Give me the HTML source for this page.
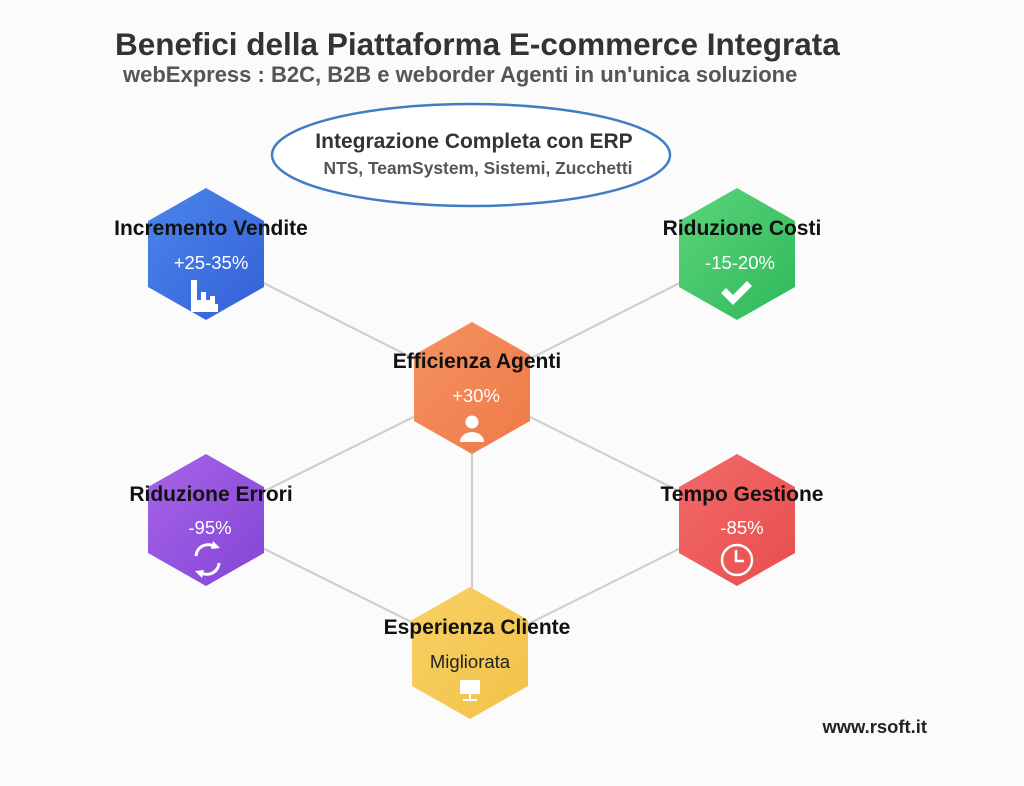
<!DOCTYPE html>
<html><head><meta charset="utf-8"><style>
html,body{margin:0;padding:0;background:#fbfbfb;}
svg{display:block;font-family:"Liberation Sans",Arial,sans-serif;}
</style></head><body>
<svg width="1024" height="786" viewBox="0 0 1024 786" xmlns="http://www.w3.org/2000/svg">
<defs>
<linearGradient id="gb" x1="0" y1="0" x2="1" y2="1"><stop offset="0" stop-color="#4a86ea"/><stop offset="1" stop-color="#3560d8"/></linearGradient>
<linearGradient id="gg" x1="0" y1="0" x2="1" y2="1"><stop offset="0" stop-color="#5cd47c"/><stop offset="1" stop-color="#2fb85a"/></linearGradient>
<linearGradient id="go" x1="0" y1="0" x2="1" y2="1"><stop offset="0" stop-color="#f49260"/><stop offset="1" stop-color="#ee7a48"/></linearGradient>
<linearGradient id="gp" x1="0" y1="0" x2="1" y2="1"><stop offset="0" stop-color="#a764e6"/><stop offset="1" stop-color="#8345d8"/></linearGradient>
<linearGradient id="gr" x1="0" y1="0" x2="1" y2="1"><stop offset="0" stop-color="#f26a6a"/><stop offset="1" stop-color="#e84e4e"/></linearGradient>
<linearGradient id="gy" x1="0" y1="0" x2="1" y2="1"><stop offset="0" stop-color="#f8d063"/><stop offset="1" stop-color="#f2c24a"/></linearGradient>
<polygon id="hex" points="0,-66 58,-33 58,33 0,66 -58,33 -58,-33"/>
</defs>
<text x="115" y="55" font-size="31.5" font-weight="bold" fill="#333">Benefici della Piattaforma E-commerce Integrata</text>
<text x="123" y="82" font-size="22" font-weight="bold" fill="#555">webExpress : B2C, B2B e weborder Agenti in un'unica soluzione</text>
<ellipse cx="471" cy="155" rx="199" ry="51" fill="#fff" stroke="#3f7ec4" stroke-width="2.5"/>
<text x="474" y="148" font-size="21" font-weight="bold" fill="#333" text-anchor="middle">Integrazione Completa con ERP</text>
<text x="478" y="174" font-size="17.4" font-weight="bold" fill="#555" text-anchor="middle">NTS, TeamSystem, Sistemi, Zucchetti</text>
<g stroke="#cfcfcf" stroke-width="2.2">
<line x1="206" y1="254" x2="472" y2="388"/>
<line x1="737" y1="254" x2="472" y2="388"/>
<line x1="472" y1="388" x2="206" y2="520"/>
<line x1="472" y1="388" x2="737" y2="520"/>
<line x1="472" y1="388" x2="472" y2="652"/>
<line x1="206" y1="520" x2="472" y2="652"/>
<line x1="737" y1="520" x2="472" y2="652"/>
</g>
<use href="#hex" x="206" y="254" fill="url(#gb)"/>
<use href="#hex" x="737" y="254" fill="url(#gg)"/>
<use href="#hex" x="472" y="388" fill="url(#go)"/>
<use href="#hex" x="206" y="520" fill="url(#gp)"/>
<use href="#hex" x="737" y="520" fill="url(#gr)"/>
<use href="#hex" x="470" y="653" fill="url(#gy)"/>
<g font-size="21" font-weight="bold" fill="#111" text-anchor="middle">
<text x="211" y="235">Incremento Vendite</text>
<text x="742" y="235">Riduzione Costi</text>
<text x="477" y="368">Efficienza Agenti</text>
<text x="211" y="501">Riduzione Errori</text>
<text x="742" y="501">Tempo Gestione</text>
<text x="477" y="634">Esperienza Cliente</text>
</g>
<g font-size="18.5" fill="#fff" text-anchor="middle">
<text x="211" y="269">+25-35%</text>
<text x="740" y="269">-15-20%</text>
<text x="476" y="402">+30%</text>
<text x="210" y="534">-95%</text>
<text x="742" y="534">-85%</text>
<text x="470" y="668" fill="#222">Migliorata</text>
</g>
<g fill="#fff">
<path d="M191 280h6v20h4v-8h5v8h4v-4h5v8h3v8h-27z"/>
<path d="M721 293l5-5 7 7 14-14 5 5-19 19z"/>
<circle cx="472" cy="422" r="6.5"/>
<path d="M460 442a12 10 0 0 1 24 0z"/>
<rect x="460" y="680" width="20" height="14"/>
<rect x="469" y="694" width="2" height="5"/>
<rect x="463" y="699" width="14" height="2"/>
</g>
<g fill="none" stroke="#fff" stroke-width="3">
<path d="M196 556a12 12 0 0 1 19-9"/>
<path d="M219 563a12 12 0 0 1-19 9"/>
<circle cx="737" cy="560" r="15" stroke-width="2.5"/>
<path d="M736 550v11h8" stroke-width="2.5"/>
</g>
<path d="M213 541l7 7-9 1z" fill="#fff"/>
<path d="M202 578l-7-7 9-1z" fill="#fff"/>
<text x="927" y="733" font-size="18.4" font-weight="bold" fill="#222" text-anchor="end">www.rsoft.it</text>
</svg>
</body></html>
